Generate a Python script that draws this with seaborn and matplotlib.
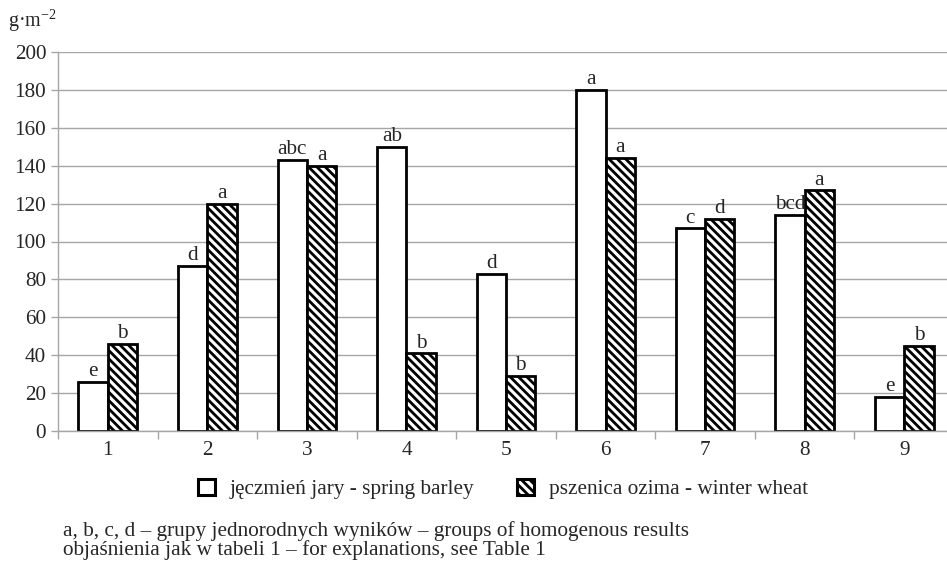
import matplotlib
matplotlib.use("Agg")
import matplotlib.pyplot as plt
import seaborn as sns
import pandas as pd
from matplotlib.patches import Patch
from matplotlib.ticker import FixedLocator

categories = ["1", "2", "3", "4", "5", "6", "7", "8", "9"]
barley = [26, 87, 143, 150, 83, 180, 107, 114, 18]
wheat = [46, 120, 140, 41, 29, 144, 112, 127, 45]
barley_letters = ["e", "d", "abc", "ab", "d", "a", "c", "bcd", "e"]
wheat_letters = ["b", "a", "a", "b", "b", "a", "d", "a", "b"]
series_names = ["jęczmień jary - spring barley", "pszenica ozima - winter wheat"]
yticks = [0, 20, 40, 60, 80, 100, 120, 140, 160, 180, 200]
unit_label = "g·m$^{-2}$"
foot1 = "a, b, c, d – grupy jednorodnych wyników – groups of homogenous results"
foot2 = "objaśnienia jak w tabeli 1 – for explanations, see Table 1"

sns.set_theme(style="white")
plt.rcParams["font.family"] = "serif"
plt.rcParams["font.serif"] = ["Liberation Serif", "Times New Roman", "DejaVu Serif"]
plt.rcParams["mathtext.fontset"] = "custom"
plt.rcParams["mathtext.rm"] = "Liberation Serif"
plt.rcParams["mathtext.it"] = "Liberation Serif"
plt.rcParams["hatch.linewidth"] = 2.0
plt.rcParams["hatch.color"] = "black"

df = pd.DataFrame({
    "cat": categories * 2,
    "val": barley + wheat,
    "series": [series_names[0]] * len(categories) + [series_names[1]] * len(categories),
})

fig = plt.figure(figsize=(9.47, 5.66), dpi=100)
ax = fig.add_axes([58 / 947, 1 - 431 / 566, (954 - 58) / 947, (431 - 52) / 566])

sns.barplot(data=df, x="cat", y="val", hue="series", order=categories,
            hue_order=series_names, palette=["white", "white"],
            edgecolor="black", linewidth=2.0, width=0.59, gap=0,
            legend=False, ax=ax, saturation=1)

for patch in ax.containers[1]:
    patch.set_hatch("\\\\\\\\")

fs = 15.3
for cont, letters in zip(ax.containers, [barley_letters, wheat_letters]):
    for patch, lab in zip(cont, letters):
        x = patch.get_x() + patch.get_width() / 2
        y = patch.get_height()
        ax.annotate(lab, (x, y), xytext=(0, 0.5), textcoords="offset points",
                    ha="center", va="bottom", fontsize=fs)

ax.set_ylim(0, 200)
ax.set_xlim(-0.5, 8.5)
ax.set_yticks(yticks)
ax.yaxis.grid(True, color="#a6a6a6", linewidth=1)
ax.set_axisbelow(True)
for s in ["top", "right"]:
    ax.spines[s].set_visible(False)
for s in ["left", "bottom"]:
    ax.spines[s].set_color("#a6a6a6")
    ax.spines[s].set_linewidth(1)
ax.tick_params(axis="y", which="major", length=5, color="#a6a6a6", width=1,
               labelsize=fs, pad=3.5, left=True, direction="out")
ax.tick_params(axis="x", which="major", length=0, labelsize=fs, pad=7.5)
ax.xaxis.set_minor_locator(FixedLocator([i - 0.5 for i in range(len(categories) + 1)]))
ax.tick_params(axis="x", which="minor", length=6, color="#a6a6a6", width=1,
               bottom=True, direction="out")
ax.set_xlabel("")
ax.set_ylabel("")

fig.text(8 / 947, 1 - 21 / 566, unit_label, fontsize=14.5, ha="left", va="center")

handles = [Patch(facecolor="white", edgecolor="black", linewidth=2.2),
           Patch(facecolor="white", edgecolor="black", linewidth=2.2, hatch="\\\\\\\\")]
fig.legend(handles, series_names, loc="center", bbox_to_anchor=(503 / 947, 1 - 489 / 566),
           ncol=2, frameon=False, fontsize=fs, handlelength=0.8, handleheight=0.8,
           columnspacing=2.0, handletextpad=0.7, borderpad=0, borderaxespad=0)

fig.text(63 / 947, 1 - 531 / 566, foot1, fontsize=fs, ha="left", va="center")
fig.text(63 / 947, 1 - 550 / 566, foot2, fontsize=fs, ha="left", va="center")

fig.savefig("out.png", dpi=100)
